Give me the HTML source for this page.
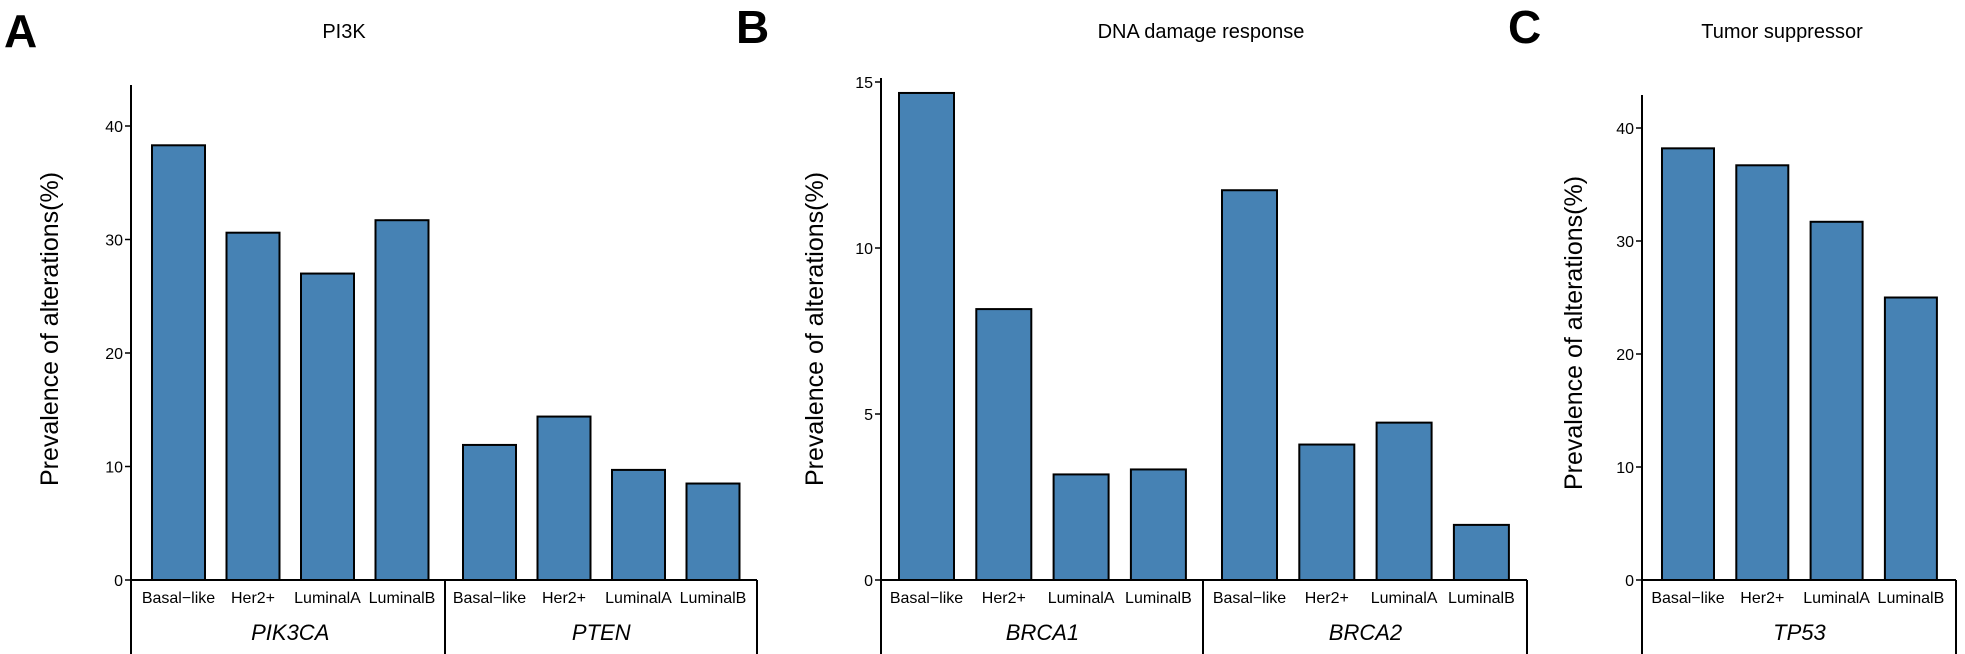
<!DOCTYPE html>
<html><head><meta charset="utf-8"><style>
body{margin:0;background:#fff;}
svg{display:block;font-family:"Liberation Sans",Arial,sans-serif;}
</style></head><body>
<svg id="chart" width="1965" height="654" viewBox="0 0 1965 654">
<text x="4" y="47" font-size="46" font-weight="bold">A</text>
<text x="736" y="43" font-size="46" font-weight="bold">B</text>
<text x="1508" y="43" font-size="46" font-weight="bold">C</text>
<text x="344" y="38" font-size="20" text-anchor="middle">PI3K</text>
<text x="1201" y="38" font-size="20" text-anchor="middle">DNA damage response</text>
<text x="1782" y="38" font-size="20" text-anchor="middle">Tumor suppressor</text>
</svg>
<script>
const categories = ["Basal\u2212like","Her2+","LuminalA","LuminalB"];
const genesA = ["PIK3CA","PTEN"];
const valuesPIK3CA = [38.3,30.6,27.0,31.7];
const valuesPTEN = [11.9,14.4,9.7,8.5];
const ticksA = [0,10,20,30,40];
const genesB = ["BRCA1","BRCA2"];
const valuesBRCA1 = [14.67,8.16,3.18,3.33];
const valuesBRCA2 = [11.74,4.08,4.74,1.66];
const ticksB = [0,5,10,15];
const genesC = ["TP53"];
const valuesTP53 = [38.2,36.7,31.7,25.0];
const ticksC = [0,10,20,30,40];

const svg = document.getElementById('chart');
const NS = 'http://www.w3.org/2000/svg';
function mk(tag, attrs){const e=document.createElementNS(NS,tag);for(const k in attrs)e.setAttribute(k,attrs[k]);svg.appendChild(e);return e;}

function panel(p){
  const base=580;
  const y=v=>base-v*p.ppu;
  // y axis
  let e=mk('line',{x1:p.ax,y1:p.top,x2:p.ax,y2:654,stroke:'#000','stroke-width':2});
  
  
  p.ticks.forEach(t=>{
    let l=mk('line',{x1:p.ax-6,y1:y(t),x2:p.ax,y2:y(t),stroke:'#000','stroke-width':1.5});
    
    
    let tx=mk('text',{x:p.ax-8,y:y(t)+6,'font-size':16,'text-anchor':'end'});
    tx.textContent=t;
    
    
  });
  let yl=mk('text',{x:0,y:0,'font-size':25,'text-anchor':'middle',transform:`translate(${p.ylx+9},${p.yly}) rotate(-90)`});
  yl.textContent='Prevalence of alterations(%)';
  
  
  // baseline
  let bl=mk('line',{x1:p.ax,y1:base,x2:p.right,y2:base,stroke:'#000','stroke-width':2});
  
  
  let rl=mk('line',{x1:p.right,y1:base,x2:p.right,y2:654,stroke:'#000','stroke-width':2});
  
  
  p.groups.forEach((g,gi)=>{
    const gx=p.gstart[gi];
    g.values.forEach((v,i)=>{
      const bx=gx+i*p.step;
      let r=mk('rect',{x:bx,y:y(v),width:p.bw,height:base-y(v),fill:'#4682B4',stroke:'#000','stroke-width':2});
      
      
      let t=mk('text',{x:bx+p.bw/2,y:603,'font-size':16,'text-anchor':'middle'});
      t.textContent=categories[i];
      
      
    });
    const cx=gx+(3*p.step+p.bw)/2;
    let gl=mk('text',{x:cx,y:640,'font-size':22,'font-style':'italic','text-anchor':'middle'});
    gl.textContent=g.name;
    
    
    if(gi>0){
      let s=mk('line',{x1:p.sep,y1:base,x2:p.sep,y2:654,stroke:'#000','stroke-width':2});
      
      
    }
  });
}
panel({id:'panel-a',ax:131,top:85,right:757,ppu:11.35,ticks:ticksA,ylx:49,yly:329,bw:53,step:74.5,sep:445,gstart:[152,463],
  groups:[{name:genesA[0],values:valuesPIK3CA},{name:genesA[1],values:valuesPTEN}]});
panel({id:'panel-b',ax:881,top:78,right:1527,ppu:33.2,ticks:ticksB,ylx:814,yly:329,bw:55,step:77.3,sep:1203,gstart:[899,1222],
  groups:[{name:genesB[0],values:valuesBRCA1},{name:genesB[1],values:valuesBRCA2}]});
panel({id:'panel-c',ax:1642,top:95,right:1956,ppu:11.3,ticks:ticksC,ylx:1573,yly:333,bw:52,step:74.3,sep:0,gstart:[1662],
  groups:[{name:genesC[0],values:valuesTP53}]});
</script>
</body></html>
